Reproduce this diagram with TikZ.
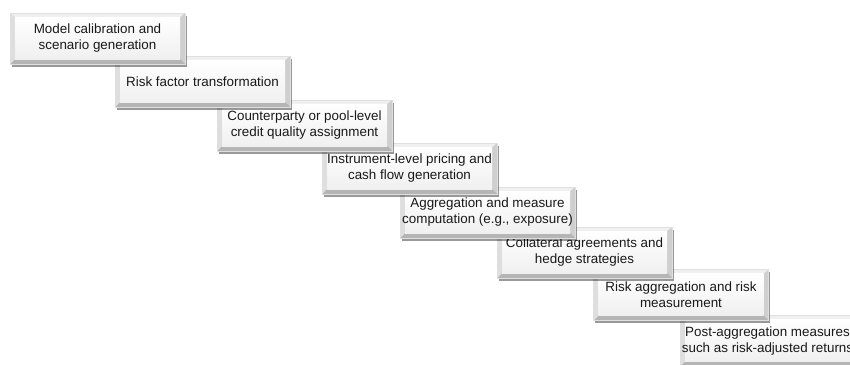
\documentclass[tikz,border=0pt]{standalone}
\usepackage{fontspec}
\setmainfont{Liberation Sans}
\usetikzlibrary{shadows}

\tikzset{
  stepbox/.style={
    minimum width=175pt, minimum height=51pt, inner sep=0pt, align=center,
    font=\fontsize{13.4}{16}\selectfont, text=black!90,
    fill=gray!38, draw=gray!25, line width=0.4pt,
    drop shadow={shadow xshift=1.5pt, shadow yshift=-2.5pt, opacity=0.4, fill=black},
    path picture={
      % top and bottom bevel
      \fill[gray!12] (path picture bounding box.north west) -- (path picture bounding box.north east)
        -- ([shift={(-5pt,-4pt)}]path picture bounding box.north east)
        -- ([shift={(5pt,-4pt)}]path picture bounding box.north west) -- cycle;
      \fill[gray!58] (path picture bounding box.south west) -- (path picture bounding box.south east)
        -- ([shift={(-5pt,5pt)}]path picture bounding box.south east)
        -- ([shift={(5pt,5pt)}]path picture bounding box.south west) -- cycle;
      \fill[gray!26] (path picture bounding box.north west) -- (path picture bounding box.south west)
        -- ([shift={(5pt,5pt)}]path picture bounding box.south west)
        -- ([shift={(5pt,-4pt)}]path picture bounding box.north west) -- cycle;
      % face
      \shade[top color=white, bottom color=gray!12]
        ([shift={(5pt,5pt)}]path picture bounding box.south west)
        rectangle ([shift={(-5pt,-4pt)}]path picture bounding box.north east);
    }
  }
}

\begin{document}
\begin{tikzpicture}[x=1pt,y=1pt]
\useasboundingbox (0,0) rectangle (850,-364);
\clip (0,0) rectangle (850,-364);

% last step first, so that each step lies on top of the next one
\foreach \n/\x/\y/\t in {
  8/767.5/-341/{Post-aggregation measures\\such as risk-adjusted returns},
  7/681/-295/{Risk aggregation and risk\\measurement},
  6/584.5/-252.5/{Collateral agreements and\\hedge strategies},
  5/487.5/-212.5/{Aggregation and measure\\computation (e.g., exposure)},
  4/409.5/-168.5/{Instrument-level pricing and\\cash flow generation},
  3/304.5/-125.5/{Counterparty or pool-level\\credit quality assignment},
  2/202.5/-81.5/{Risk factor transformation},
  1/97.5/-38.5/{Model calibration and\\scenario generation}} {
  \node[stepbox] (step\n) at (\x,\y) {\t};
}

\end{tikzpicture}
\end{document}
